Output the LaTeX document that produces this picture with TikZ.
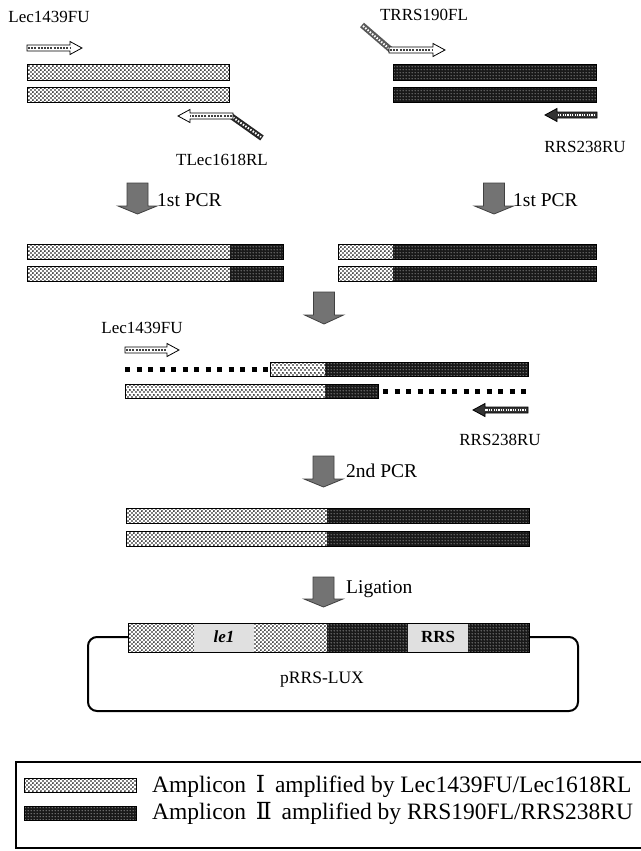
\documentclass[tikz,border=0pt]{standalone}
\usepackage{fontspec}
\setmainfont{Liberation Serif}
\newfontfamily\romfont{DejaVu Serif}
\usetikzlibrary{patterns}
\pgfdeclarepatternformonly{ampIpat}{\pgfpointorigin}{\pgfpoint{4.4pt}{4.4pt}}{\pgfpoint{4.4pt}{4.4pt}}{%
  \pgfpathcircle{\pgfpoint{1.1pt}{1.1pt}}{1.05pt}%
  \pgfpathcircle{\pgfpoint{3.3pt}{3.3pt}}{1.05pt}%
  \pgfusepath{fill}}
\pgfdeclarepatternformonly{ampIIpat}{\pgfpointorigin}{\pgfpoint{3pt}{3pt}}{\pgfpoint{3pt}{3pt}}{%
  \pgfpathcircle{\pgfpoint{1.5pt}{1.5pt}}{0.7pt}%
  \pgfusepath{fill}}
\tikzset{
  ampI/.style={preaction={fill=white}, pattern=ampIpat, pattern color=black},
  ampII/.style={preaction={fill=black!90}, pattern=ampIIpat, pattern color=white!85!black},
  barline/.style={draw=black, line width=1pt},
  bigarrow/.style={fill=black!55, draw=black!75, line width=0.8pt},
  lbl/.style={font=\fontsize{17}{19}\selectfont, inner sep=0pt},
  steplbl/.style={font=\fontsize{19.5}{22}\selectfont, inner sep=0pt, anchor=west},
  legtxt/.style={font=\fontsize{23.5}{25}\selectfont, inner sep=0pt, anchor=west},
  sqdots/.style={line width=5pt, dash pattern=on 5pt off 6.5pt},
  primer/.style={fill=white, draw=black, line width=0.8pt},
  primerfill/.style={line width=2.4pt, black!75, dash pattern=on 2pt off 1.2pt},
}
% forward primer: x1, x2, y
\newcommand{\fwdprimer}[3]{%
  \draw[primer] (#1,#3-3) -- (#2-12,#3-3) -- (#2-12,#3-6.5) -- (#2,#3) -- (#2-12,#3+6.5) -- (#2-12,#3+3) -- (#1,#3+3) -- cycle;
  \draw[primerfill] (#1+1,#3) -- (#2-12,#3);}
% reverse primer: x1 (tip), x2, y
\newcommand{\revprimer}[3]{%
  \draw[primer] (#2,#3-3) -- (#1+12,#3-3) -- (#1+12,#3-6.5) -- (#1,#3) -- (#1+12,#3+6.5) -- (#1+12,#3+3) -- (#2,#3+3) -- cycle;
  \draw[primerfill] (#2-1,#3) -- (#1+12,#3);}
% big arrow: center x, top y, head y, tip y
\newcommand{\bigdown}[4]{%
  \draw[bigarrow] (#1-10.5,#2) -- (#1+10.5,#2) -- (#1+10.5,#3) -- (#1+19.5,#3) -- (#1,#4) -- (#1-19.5,#3) -- (#1-10.5,#3) -- cycle;}
\begin{document}
\begin{tikzpicture}[x=1pt,y=-1pt]
\useasboundingbox (0,0) rectangle (640,851);
\fill[white] (0,0) rectangle (640,851);

% ---------- top left ----------
\node[lbl] (l1) at (49,17) {Lec1439FU};
\fwdprimer{27}{82}{48}
\fill[ampI] (27,65) rectangle (229,80);
\draw[barline] (27,65) rectangle (229,80);
\fill[ampI] (27,87) rectangle (229,102);
\draw[barline] (27,87) rectangle (229,102);
\draw[line width=6pt, black!85] (231,116) -- (262,138);
\draw[line width=2pt, white, dash pattern=on 1.5pt off 1.5pt] (233,117.5) -- (261,137);
\revprimer{178}{233}{116}
\node[lbl] (l2) at (222,160) {TLec1618RL};

% ---------- top right ----------
\node[lbl] (l3) at (424,15) {TRRS190FL};
\draw[line width=6pt, black!65] (362,25) -- (391,50);
\draw[line width=2pt, white, dash pattern=on 1.5pt off 1.5pt] (363,26) -- (389,48.5);
\fwdprimer{389}{445}{50}
\fill[ampII] (393,65) rectangle (596,80);
\draw[barline] (393,65) rectangle (596,80);
\fill[ampII] (393,87) rectangle (596,102);
\draw[barline] (393,87) rectangle (596,102);
\draw[fill=black!80, draw=black, line width=0.8pt] (597,112) -- (557,112) -- (557,108.5) -- (545,115) -- (557,121.5) -- (557,118) -- (597,118) -- cycle;
\draw[line width=2pt, white, dash pattern=on 1.2pt off 1.2pt] (595,115) -- (557,115);
\node[lbl] (l4) at (585,147) {RRS238RU};

% ---------- 1st PCR ----------
\bigdown{137.5}{183}{206}{214}
\node[steplbl] (s1) at (157,200) {1st PCR};
\bigdown{494}{183}{206}{214}
\node[steplbl] (s2) at (513,200) {1st PCR};

% ---------- row 2 ----------
\fill[ampI] (27,244) rectangle (230,259);
\fill[ampII] (230,244) rectangle (283,259);
\draw[barline] (27,244) rectangle (283,259);
\fill[ampI] (27,266) rectangle (230,281);
\fill[ampII] (230,266) rectangle (283,281);
\draw[barline] (27,266) rectangle (283,281);

\fill[ampI] (338,244) rectangle (393,259);
\fill[ampII] (393,244) rectangle (596,259);
\draw[barline] (338,244) rectangle (596,259);
\fill[ampI] (338,266) rectangle (393,281);
\fill[ampII] (393,266) rectangle (596,281);
\draw[barline] (338,266) rectangle (596,281);

\bigdown{324}{292}{315}{324}

% ---------- row 3 ----------
\node[lbl] (l5) at (142,328) {Lec1439FU};
\fwdprimer{125}{179}{350}
\draw[sqdots] (125,369) -- (268,369);
\fill[ampI] (270,362) rectangle (325,376);
\fill[ampII] (325,362) rectangle (528,376);
\draw[barline] (270,362) rectangle (528,376);
\fill[ampI] (125,384) rectangle (325,398);
\fill[ampII] (325,384) rectangle (378,398);
\draw[barline] (125,384) rectangle (378,398);
\draw[sqdots] (383,391) -- (528,391);
\draw[fill=black!80, draw=black, line width=0.8pt] (528,407) -- (485,407) -- (485,403.5) -- (473,410) -- (485,416.5) -- (485,413) -- (528,413) -- cycle;
\draw[line width=2pt, white, dash pattern=on 1.2pt off 1.2pt] (526,410) -- (485,410);
\node[lbl] (l6) at (500,440) {RRS238RU};

% ---------- 2nd PCR ----------
\bigdown{323.5}{456}{479}{487}
\node[steplbl] (s3) at (346,471) {2nd PCR};

\fill[ampI] (126,508) rectangle (327,523);
\fill[ampII] (327,508) rectangle (529,523);
\draw[barline] (126,508) rectangle (529,523);
\fill[ampI] (126,531) rectangle (327,546);
\fill[ampII] (327,531) rectangle (529,546);
\draw[barline] (126,531) rectangle (529,546);

% ---------- Ligation ----------
\bigdown{323.5}{577}{599}{607}
\node[steplbl] (s4) at (346,589) {Ligation};

\draw[line width=2pt, rounded corners=9pt] (128,637) -- (88,637) -- (88,711) -- (578,711) -- (578,637) -- (529,637);
\fill[ampI] (128,623) rectangle (194,652);
\fill[black!12] (194,623) rectangle (254,652);
\fill[ampI] (254,623) rectangle (327,652);
\fill[ampII] (327,623) rectangle (408,652);
\fill[black!12] (408,623) rectangle (468,652);
\fill[ampII] (468,623) rectangle (529,652);
\draw[barline] (128,623) rectangle (529,652);
\node[lbl, font=\fontsize{17}{19}\selectfont\bfseries\itshape] (le) at (224,637) {le1};
\node[lbl, font=\fontsize{17}{19}\selectfont\bfseries] (rrs) at (438,637) {RRS};
\node[lbl, font=\fontsize{17.5}{19}\selectfont] (px) at (322,680) {pRRS-LUX};

% ---------- legend ----------
\draw[line width=1.2pt] (16,762) rectangle (660,848);
\fill[ampI] (24,778) rectangle (136,792);
\draw[line width=0.8pt] (24,778) rectangle (136,792);
\fill[ampII] (24,806) rectangle (136,820);
\draw[line width=0.8pt] (24,806) rectangle (136,820);
\node[legtxt] (t1) at (152,786) {Amplicon \,{\romfont Ⅰ}\, amplified by Lec1439FU/Lec1618RL};
\node[legtxt] (t2) at (152,813) {Amplicon \,{\romfont Ⅱ}\, amplified by RRS190FL/RRS238RU};
\end{tikzpicture}
\end{document}
